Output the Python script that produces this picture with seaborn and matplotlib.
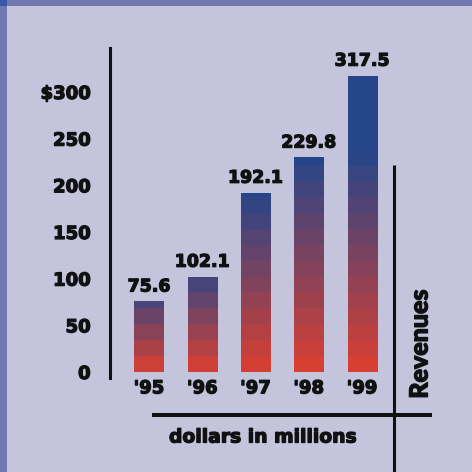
import numpy as np
import pandas as pd
import matplotlib
matplotlib.use("Agg")
import matplotlib.pyplot as plt
import matplotlib.patheffects as pe
import seaborn as sns
from matplotlib.lines import Line2D
from matplotlib.patches import Rectangle

# Annual revenues, dollars in millions
years = ["'95", "'96", "'97", "'98", "'99"]
revenues = [75.6, 102.1, 192.1, 229.8, 317.5]
y_ticks = [0, 50, 100, 150, 200, 250, 300]
y_tick_labels = ["0", "50", "100", "150", "200", "250", "$300"]

BG = "#C4C4DC"
FRAME = "#7078B0"
INK = "#111111"
RED = np.array([220, 64, 48]) / 255
BLUE = np.array([38, 70, 138]) / 255

sns.set_theme(style="white")
plt.rcParams["font.family"] = ["DejaVu Sans"]

# thin outline to make the bold face a little heavier
heavy = [pe.withStroke(linewidth=0.9, foreground=INK)]

W = H = 472
fig = plt.figure(figsize=(W / 100, H / 100), dpi=100, facecolor=BG)


def fx(px):
    return px / W


def fy(py):
    return 1 - py / H


ax = fig.add_axes([fx(110), fy(378), fx(394) - fx(110), fy(48) - fy(378)])
ax.set_facecolor("none")

df = pd.DataFrame({"year": years, "revenue": revenues})
sns.barplot(data=df, x="year", y="revenue", ax=ax, width=0.545,
            color="#884a6a", saturation=1, errorbar=None)

ax.set_xlim(-0.732, 4.60)
ax.set_ylim(-6.43, 347.1)

# Banded red-to-blue fill inside every bar
band = 17.0
for patch, val in zip(ax.patches, revenues):
    x0 = patch.get_x()
    w = patch.get_width()
    h = patch.get_height()
    t_top = min(1.0, 0.55 + h / 300)
    span = min(h, 235)
    n = 400
    v = np.linspace(0, h, n)
    k = np.floor(v / band)
    vq = np.minimum((k + 0.5) * band, h)
    t = t_top * np.minimum(vq / span, 1.0)
    cols = RED[None, :] * (1 - t[:, None]) + BLUE[None, :] * t[:, None]
    img = cols[:, None, :]
    im = ax.imshow(img, extent=[x0, x0 + w, 0, h], origin="lower",
                   aspect="auto", interpolation="nearest", zorder=3)
    im.set_clip_path(patch)
    patch.set_facecolor("none")
    patch.set_edgecolor("none")
    ax.text(patch.get_x() + w / 2, h + 16, f"{val}", ha="center", va="center",
            fontsize=12.5, fontweight="bold", color=INK, zorder=4,
            path_effects=heavy)

ax.set_xlim(-0.732, 4.60)
ax.set_ylim(-6.43, 347.1)
ax.set_yticks(y_ticks)
ax.set_yticklabels(y_tick_labels, fontsize=13, fontweight="bold", color=INK)
ax.set_xticks(range(len(years)))
ax.set_xticklabels(years, fontsize=13, fontweight="bold", color=INK)
for lab in ax.get_xticklabels() + ax.get_yticklabels():
    lab.set_path_effects(heavy)
ax.tick_params(axis="y", length=0, pad=14)
ax.tick_params(axis="x", length=0, pad=1)
ax.set_xlabel("")
ax.set_ylabel("")
for side in ["top", "right", "bottom"]:
    ax.spines[side].set_visible(False)
ax.spines["left"].set_color(INK)
ax.spines["left"].set_linewidth(2.2)

# Frame strips along the top and left edges
fig.add_artist(Rectangle((0, fy(6)), 1, 6 / H, transform=fig.transFigure,
                         color=FRAME, lw=0))
fig.add_artist(Rectangle((0, 0), 7 / W, 1, transform=fig.transFigure,
                         color=FRAME, lw=0))
fig.add_artist(Rectangle((0, fy(6)), 7 / W, 6 / H, transform=fig.transFigure,
                         color="#3A56A6", lw=0))

# Rule lines
fig.add_artist(Line2D([fx(152), fx(432)], [fy(415), fy(415)],
                      transform=fig.transFigure, color=INK, lw=2.9,
                      solid_capstyle="butt"))
fig.add_artist(Line2D([fx(394), fx(394)], [fy(165), fy(472)],
                      transform=fig.transFigure, color=INK, lw=2.2,
                      solid_capstyle="butt"))

fig.text(fx(263), fy(437), "dollars in millions", ha="center", va="center",
         fontsize=13.5, fontweight="bold", color=INK, path_effects=heavy)
fig.text(fx(420), fy(344), "Revenues", ha="center", va="center", rotation=90,
         fontsize=18, fontweight="black", family=["Lato", "DejaVu Sans"],
         color=INK, path_effects=heavy)

fig.savefig("out.png", dpi=100, facecolor=BG)
